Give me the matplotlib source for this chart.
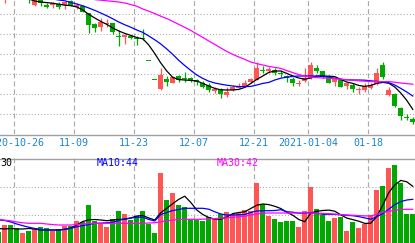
import numpy as np
import pandas as pd
import matplotlib
matplotlib.use("Agg")
import matplotlib.pyplot as plt
from matplotlib.lines import Line2D
from matplotlib.transforms import blended_transform_factory

# ---------------------
# trading days shown (2021-01-01 holiday left out)

dates = pd.bdate_range("2020-10-21", "2021-01-27")
dates = dates[dates != pd.Timestamp("2021-01-01")]

opens = [17.00, 16.25, 16.75, 16.40, 16.15, 16.30, 15.75, 16.05, 15.75, 15.75,
         15.79, 15.75, 15.95, 15.64, 15.70, 15.34, 14.80, 14.64, 14.80, 14.84,
         14.19, 14.14, 14.20, 14.10, 14.12, 12.96, 12.00, 11.54, 12.04, 11.87,
         12.20, 12.12, 12.12, 12.00, 11.87, 11.75, 11.47, 11.54, 11.25, 11.50,
         11.62, 11.70, 11.92, 12.00, 12.50, 12.45, 12.50, 12.37, 12.20, 12.05,
         11.82, 11.95, 12.09, 12.59, 12.45, 12.20, 11.92, 12.00, 11.70, 11.75,
         11.52, 11.50, 11.59, 11.80, 12.75, 11.25, 11.28, 10.59, 10.15, 10.07]
closes = [16.50, 16.75, 16.25, 16.10, 16.40, 16.10, 16.10, 15.84, 15.67, 15.84,
          15.67, 15.92, 15.72, 15.75, 15.42, 14.75, 14.59, 14.89, 14.87, 14.39,
          14.15, 14.25, 14.09, 14.07, 14.05, 12.94, 11.98, 12.25, 11.92, 12.14,
          12.00, 12.04, 12.00, 11.92, 11.67, 11.50, 11.54, 11.29, 11.42, 11.67,
          11.70, 11.87, 12.04, 12.59, 12.45, 12.54, 12.34, 12.30, 12.09, 11.84,
          11.85, 12.09, 12.75, 12.45, 12.17, 11.87, 12.09, 11.67, 11.84, 11.54,
          11.55, 11.70, 11.75, 12.37, 12.14, 11.50, 10.70, 10.19, 10.12, 9.92]
highs = [17.25, 16.90, 16.90, 16.50, 16.50, 16.40, 16.20, 16.10, 15.85, 15.88,
         15.92, 15.95, 16.00, 15.87, 15.73, 15.37, 14.83, 15.09, 15.04, 14.87,
         14.50, 14.28, 14.25, 14.20, 14.54, 12.96, 12.00, 12.59, 12.20, 12.20,
         12.25, 12.42, 12.17, 12.04, 11.95, 11.84, 11.67, 11.59, 11.67, 11.75,
         11.87, 12.00, 12.12, 12.92, 12.70, 12.67, 12.59, 12.50, 12.25, 12.17,
         12.00, 12.59, 12.92, 12.75, 12.45, 12.25, 12.17, 12.09, 11.92, 11.84,
         11.67, 11.84, 11.84, 12.59, 12.92, 11.63, 11.33, 10.65, 10.30, 10.15]
lows = [16.40, 15.87, 16.10, 16.05, 16.05, 15.87, 15.70, 15.70, 15.60, 15.60,
        15.57, 15.57, 15.68, 15.57, 15.40, 14.34, 14.39, 14.47, 14.67, 14.29,
        13.70, 13.79, 14.04, 13.75, 14.00, 12.94, 11.98, 11.50, 11.70, 11.84,
        11.92, 11.92, 11.92, 11.75, 11.59, 11.42, 11.34, 11.09, 11.17, 11.47,
        11.59, 11.64, 11.87, 12.00, 12.37, 12.37, 12.25, 12.17, 11.92, 11.70,
        11.70, 11.92, 12.05, 12.37, 12.09, 11.84, 11.70, 11.64, 11.54, 11.42,
        11.30, 11.42, 11.54, 11.75, 12.05, 11.20, 10.64, 10.00, 10.00, 9.80]
volumes = [11.3, 18, 18, 14.7, 10.3, 12.3, 13.7, 15.7, 14.7, 12.3,
           13.7, 17.3, 17.3, 22, 21.3, 38, 22, 20.3, 16.3, 23.7,
           32.3, 29, 23, 27, 32, 19, 10.3, 70.3, 43, 50.3,
           38, 36.3, 23.7, 23, 22.3, 25.7, 23.7, 28.7, 31.3, 28.7,
           30.3, 33, 32.3, 60.3, 39, 27, 24, 21.3, 22.3, 22.3,
           16.3, 32.3, 56.3, 34, 28, 22.3, 25.3, 25.7, 12, 21.3,
           15.3, 18.7, 28, 53, 57, 74.7, 78, 60.3, 28.7, 28.7]

# price moving averages as drawn (they start later than the candles)
ma5_start, ma10_start, ma30_start = 2, 6, 13
ma5 = [16.05, 15.95, 15.90, 15.87, 15.84, 15.79, 15.74, 15.72, 15.65, 15.50,
       15.28, 15.10, 14.93, 14.78, 14.60, 14.45, 14.33, 14.23, 14.12, 14.06,
       13.75, 13.32, 12.85, 12.45, 12.13, 12.02, 12.00, 11.98, 11.95, 11.83,
       11.70, 11.58, 11.51, 11.50, 11.50, 11.53, 11.63, 11.83, 12.03, 12.20,
       12.38, 12.45, 12.45, 12.33, 12.20, 12.10, 12.04, 12.10, 12.20, 12.20,
       12.19, 12.17, 12.03, 11.90, 11.83, 11.73, 11.68, 11.73, 11.83, 11.88,
       11.84, 11.65, 11.35, 10.98, 10.53]
ma10 = [16.05, 16.00, 15.96, 15.88, 15.80, 15.71, 15.60, 15.48, 15.35, 15.21,
        15.06, 14.90, 14.76, 14.64, 14.50, 14.38, 14.20, 14.01, 13.80, 13.55,
        13.28, 12.98, 12.72, 12.48, 12.25, 12.08, 11.94, 11.85, 11.79, 11.74,
        11.70, 11.67, 11.67, 11.68, 11.75, 11.83, 11.88, 12.00, 12.09, 12.14,
        12.18, 12.20, 12.20, 12.20, 12.20, 12.18, 12.14, 12.09, 12.03, 12.01,
        12.00, 12.00, 11.99, 11.96, 11.93, 11.90, 11.87, 11.75, 11.58, 11.40,
        11.20]
ma30 = [16.02, 15.99, 15.96, 15.93, 15.90, 15.85, 15.77, 15.69, 15.55, 15.44,
        15.32, 15.19, 15.07, 14.93, 14.78, 14.63, 14.48, 14.30, 14.13, 13.95,
        13.78, 13.60, 13.43, 13.28, 13.15, 13.03, 12.90, 12.82, 12.75, 12.68,
        12.63, 12.58, 12.47, 12.37, 12.27, 12.19, 12.14, 12.12, 12.10, 12.09,
        12.07, 12.04, 12.02, 11.99, 11.96, 11.94, 11.92, 11.92, 11.92, 11.92,
        11.89, 11.85, 11.82, 11.79]

# volume moving averages as drawn
vma5 = [14.5, 14, 14.5, 14, 14, 14.5, 14, 13, 13, 13,
        13, 13.8, 14.8, 18, 21.5, 23.2, 23.5, 23, 22.3, 23,
        23.6, 23.7, 25, 27, 27.5, 25, 23, 30.3, 34.7, 39.4,
        43.7, 46.8, 40.5, 33, 28.5, 25.5, 23.9, 23.8, 26, 29.4,
        30.5, 31.2, 34.5, 37.8, 39, 38.4, 36.7, 34.5, 30.7, 27.8,
        23.5, 21.3, 30, 31.7, 32.5, 32.9, 31.8, 28.2, 24.9, 23.4,
        21.8, 19.6, 19.8, 26.5, 37.8, 50.4, 58, 62.6, 61.2, 56.7]
vma10 = [23, 22.5, 21, 19, 17.3, 15.8, 14.5, 13.6, 13, 13,
         13, 13.5, 14.8, 16.2, 17.4, 18.5, 19.7, 19.8, 20.3, 20.7,
         22.6, 24.2, 25, 25.8, 25.8, 23.5, 22, 28.5, 30.5, 32.5,
         33.5, 34.7, 34.7, 34.7, 34.7, 33.8, 31.2, 29, 28, 28,
         28.2, 28.5, 30.5, 32, 32.3, 32.3, 32.5, 33.3, 31.3, 30.8,
         29.8, 29.7, 30.5, 29.7, 28.7, 28.7, 28.6, 28.2, 27.7, 27.3,
         26.4, 25.1, 23.8, 26.3, 29.5, 33.8, 38.3, 41.4, 43, 43.7]
vma30 = [23.8, 22.8, 22.2, 21, 20.2, 19.7, 19.7, 19.7, 19, 18.4,
         18, 18, 18, 18.5, 19, 19.5, 19.7, 19.7, 19.7, 19.7,
         19.7, 19.7, 19.7, 19.7, 19.7, 20, 20.3, 21.2, 22.2, 22.9,
         23.5, 23.7, 23.7, 23.7, 23.8, 24.1, 24.4, 24.8, 25.2, 25.7,
         26.2, 26.8, 28, 29.2, 29.7, 30, 30, 30, 30, 30,
         30, 30, 30, 29.8, 29.6, 29.3, 28.9, 28.4, 28, 27.7,
         27.4, 27.1, 27, 28.8, 30.6, 31.8, 32.7, 33.6, 33.7, 33.7]

label_dates = ["2020-10-26", "2020-11-09", "2020-11-23", "2020-12-07",
               "2020-12-21", "2021-01-04", "2021-01-18"]
label_text = ["2020-10-26", "11-09", "11-23", "12-07", "12-21", "2021-01-04", "01-18"]

# ---------------------

RED = "#ff5555"
GREEN = "#00a800"
GRID = "#aaaaaa"

o = np.array(opens)
c = np.array(closes)
x = np.arange(len(dates)) - 3          # 2020-10-26 sits at 0
col = np.where(c >= o, RED, GREEN)

W, H = 415, 243
fig = plt.figure(figsize=(W / 100, H / 100), dpi=100)
ax1 = fig.add_axes([0, (H - 134) / H, 1, 134 / H])
ax2 = fig.add_axes([0, 0, 1, 85 / H])

for ax in (ax1, ax2):
    ax.set_xlim(-2.8, 66.37)
    ax.set_xticks([])
    ax.set_yticks([])
    for s in ax.spines.values():
        s.set_visible(False)

ax1.set_ylim(9.3, 16.0)
ax2.set_ylim(0, 85)

# grid
for p in [15.285, 14.285, 13.285, 12.285, 11.285, 10.285]:
    ax1.axhline(p, color=GRID, lw=0.75, ls=(0, (1, 2)), zorder=0)
for v in [28.5, 56.5]:
    ax2.axhline(v, color=GRID, lw=0.75, ls=(0, (1, 2)), zorder=0)

date_str = [d.strftime("%Y-%m-%d") for d in dates]
label_pos = [date_str.index(d) - 3 - 0.42 for d in label_dates]
for pos in label_pos:
    ax1.axvline(pos, color=GRID, lw=0.85, ls=(0, (4.2, 2.6)), zorder=0)
    ax2.axvline(pos, color=GRID, lw=0.85, ls=(0, (4.2, 2.6)), zorder=0)

# candles
body_lo = np.minimum(o, c)
body_h = np.maximum(np.abs(c - o), 0.05)
ax1.vlines(x, lows, highs, colors=col, lw=0.9, zorder=2)
ax1.bar(x, body_h, bottom=body_lo, width=0.83, color=col, linewidth=0, zorder=3)

ax1.plot(np.arange(ma5_start, 67), ma5, color="black", lw=0.9, zorder=4)
ax1.plot(np.arange(ma10_start, 67), ma10, color="#0000ff", lw=0.9, zorder=4)
ax1.plot(np.arange(ma30_start, 67), ma30, color="#ff00ff", lw=0.9, zorder=4)

# volume
ax2.bar(x, volumes, width=0.83, color=col, linewidth=0, zorder=2)
ax2.plot(x, vma5, color="black", lw=0.9, zorder=4)
ax2.plot(x, vma10, color="#0000ff", lw=0.9, zorder=4)
ax2.plot(x, vma30, color="#ff00ff", lw=0.9, zorder=4)

# separators and labels
for yp in [134.5, 158.5]:
    fig.add_artist(Line2D([0, 1], [(H - yp) / H] * 2, transform=fig.transFigure,
                          color="#a0a0a0", lw=1.0))

tr = blended_transform_factory(ax1.transData, fig.transFigure)
for pos, t in zip(label_pos, label_text):
    ax1.text(pos, (H - 143.3) / H, t, transform=tr, ha="center", va="center",
             family="DejaVu Sans Mono", fontsize=7.2, color="#1a86d0", clip_on=False)

fig.text(0 / W, (H - 163) / H, "30", ha="left", va="center",
         family="DejaVu Sans Mono", fontsize=7.2, color="black")
fig.text(97 / W, (H - 163) / H, "MA10:44", ha="left", va="center",
         family="DejaVu Sans Mono", fontsize=7.2, color="#0000ff")
fig.text(217 / W, (H - 163) / H, "MA30:42", ha="left", va="center",
         family="DejaVu Sans Mono", fontsize=7.2, color="#ff00ff")

fig.savefig("out.png", dpi=100)
